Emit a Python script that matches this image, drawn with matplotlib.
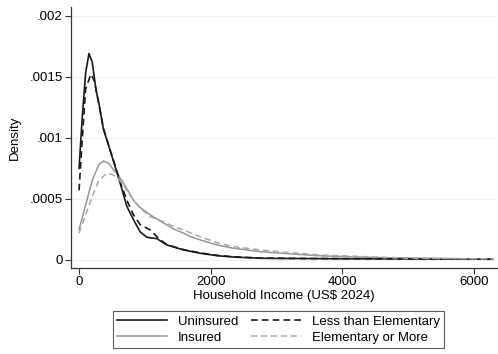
import matplotlib
matplotlib.use('Agg')
import matplotlib.pyplot as plt

plt.rcParams['font.family'] = ['Liberation Sans', 'DejaVu Sans']

# densities (income in US$ 2024)
unins_x = [0, 50, 100, 150, 200, 258, 309, 370, 471, 550, 624, 725, 826, 928, 1030,
           1100, 1181, 1333, 1586, 1840, 2094, 2347, 2753, 3200, 4000, 5000, 6280]
unins_y = [0.00075, 0.00118, 0.00153, 0.00169, 0.00162, 0.00139, 0.00126, 0.00107, 0.0009,
           0.00076, 0.00063, 0.00044, 0.00033, 0.00023, 0.000186, 0.00018, 0.000175,
           0.000123, 0.000082, 0.000055, 0.000035, 0.000024, 0.000014, 0.000012,
           0.00001, 0.000009, 0.000006]

ins_x = [0, 100, 200, 300, 370, 450, 522, 600, 674, 750, 826, 900, 978, 1080, 1200, 1333,
         1450, 1586, 1700, 1840, 2094, 2347, 2753, 3200, 3700, 4200, 4700, 5200, 5700, 6280]
ins_y = [0.00025, 0.00045, 0.00065, 0.00078, 0.00081, 0.00079, 0.00074, 0.00069, 0.00063,
         0.00056, 0.00049, 0.00044, 0.00041, 0.00037, 0.00033, 0.000287, 0.00025, 0.00022,
         0.00019, 0.000164, 0.000123, 0.000096, 0.000068, 0.00005, 0.000033, 0.000025,
         0.000018, 0.000014, 0.000011, 0.000009]

less_x = [0, 50, 100, 180, 230, 300, 370, 471, 550, 624, 725, 826, 928, 1080, 1206, 1333,
          1586, 1840, 2094, 2347, 2753, 3200, 4000, 5000, 6280]
less_y = [0.00057, 0.001, 0.0014, 0.00152, 0.00147, 0.00128, 0.00108, 0.0009, 0.00077,
          0.00064, 0.00049, 0.00037, 0.00029, 0.000246, 0.000178, 0.000125, 0.000085,
          0.000058, 0.000038, 0.000026, 0.000016, 0.000013, 0.000011, 0.000009, 0.000006]

elem_x = [0, 100, 200, 300, 421, 500, 573, 650, 725, 800, 877, 980, 1080, 1200, 1333, 1450,
          1586, 1700, 1840, 2094, 2347, 2753, 3200, 3700, 4200, 4700, 5200, 5700, 6280]
elem_y = [0.00022, 0.00037, 0.00052, 0.00065, 0.00071, 0.0007, 0.00068, 0.00063, 0.00057,
          0.00051, 0.00046, 0.0004, 0.000355, 0.00033, 0.0003, 0.00027, 0.000246, 0.00022,
          0.00019, 0.000142, 0.000109, 0.000082, 0.00006, 0.00004, 0.00003, 0.00002,
          0.000015, 0.000011, 0.000009]

y_ticks = [0, 0.0005, 0.001, 0.0015, 0.002]
y_labels = ['0', '.0005', '.001', '.0015', '.002']
x_ticks = [0, 2000, 4000, 6000]

fig = plt.figure(figsize=(4.98, 3.54), dpi=100)
ax = fig.add_axes([0.1426, 0.243, 0.855, 0.737])

for t in y_ticks:
    ax.axhline(t, color='#eaf2f3', lw=0.8, zorder=0)

ax.plot(unins_x, unins_y, color='#1a1a1a', lw=1.2, label='Uninsured')
ax.plot(ins_x, ins_y, color='#969696', lw=1.1, label='Insured')
ax.plot(less_x, less_y, color='#1a1a1a', lw=1.2, ls=(0, (4, 2.5)), label='Less than Elementary')
ax.plot(elem_x, elem_y, color='#a8a8a8', lw=1.1, ls=(0, (4, 2.5)), label='Elementary or More')

ax.set_xlim(-122, 6345)
ax.set_ylim(-0.0000656, 0.00207)
ax.set_yticks(y_ticks)
ax.set_yticklabels(y_labels)
ax.set_xticks(x_ticks)
ax.tick_params(labelsize=9.5, length=4, width=0.8, color='#333333', pad=2)
for s in ['top', 'right']:
    ax.spines[s].set_visible(False)
for s in ['left', 'bottom']:
    ax.spines[s].set_color('#333333')
    ax.spines[s].set_linewidth(0.9)

ax.set_xlabel('Household Income (US$ 2024)', fontsize=9.5, labelpad=1)
ax.set_ylabel('Density', fontsize=9.5, labelpad=6)

handles, labels = ax.get_legend_handles_labels()
leg = fig.legend(handles, labels,
                 ncol=2, loc='center', bbox_to_anchor=(0.559, 0.069),
                 fontsize=9.5, frameon=True, fancybox=False, edgecolor='#333333',
                 handlelength=3.8, handletextpad=0.8, columnspacing=1.0,
                 labelspacing=0.3, borderpad=0.3)
leg.get_frame().set_linewidth(0.8)

plt.savefig('out.png', dpi=100)
